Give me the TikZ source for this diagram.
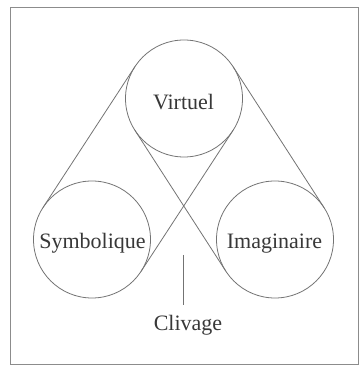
\documentclass[tikz,border=0pt]{standalone}
\usepackage{fontspec}
\setmainfont{Liberation Serif}
\usetikzlibrary{calc}
\begin{document}
\begin{tikzpicture}[x=1pt,y=1pt,
  ring/.style={circle,draw=black!55,line width=0.8pt,minimum size=117pt,inner sep=0pt},
  belt/.style={draw=black!55,line width=0.8pt},
  lbl/.style={font=\fontsize{22}{24}\selectfont,text=black!78,anchor=base,inner sep=0pt}]
\useasboundingbox (0,0) rectangle (362,374);
\draw[draw=black!45,line width=0.9pt] (10,367) rectangle (358,10);
\node[ring] (V) at (184,275.5) {};
\node[ring] (S) at (92,134.5) {};
\node[ring] (I) at (275,134.5) {};
\def\r{58.5pt}
% belt V-S
\coordinate (vs1) at ($(V)!\r!90:(S)$);
\coordinate (sv1) at ($(S)!\r!-90:(V)$);
\coordinate (vs2) at ($(V)!\r!-90:(S)$);
\coordinate (sv2) at ($(S)!\r!90:(V)$);
% belt V-I
\coordinate (vi1) at ($(V)!\r!90:(I)$);
\coordinate (iv1) at ($(I)!\r!-90:(V)$);
\coordinate (vi2) at ($(V)!\r!-90:(I)$);
\coordinate (iv2) at ($(I)!\r!90:(V)$);
\draw[belt] (vs1) -- (sv1);
\draw[belt] (vs2) -- (sv2);
\draw[belt] (vi1) -- (iv1);
\draw[belt] (vi2) -- (iv2);
\node[lbl] (tV) at (183.5,264.5) {Virtuel};
\node[lbl] (tS) at (92.5,125) {Symbolique};
\node[lbl] (tI) at (274.5,125) {Imaginaire};
\coordinate (c1) at (183,119);
\coordinate (c2) at (183,69);
\draw[belt] (c1) -- (c2);
\node[lbl] (tC) at (188,43) {Clivage};
\end{tikzpicture}
\end{document}
